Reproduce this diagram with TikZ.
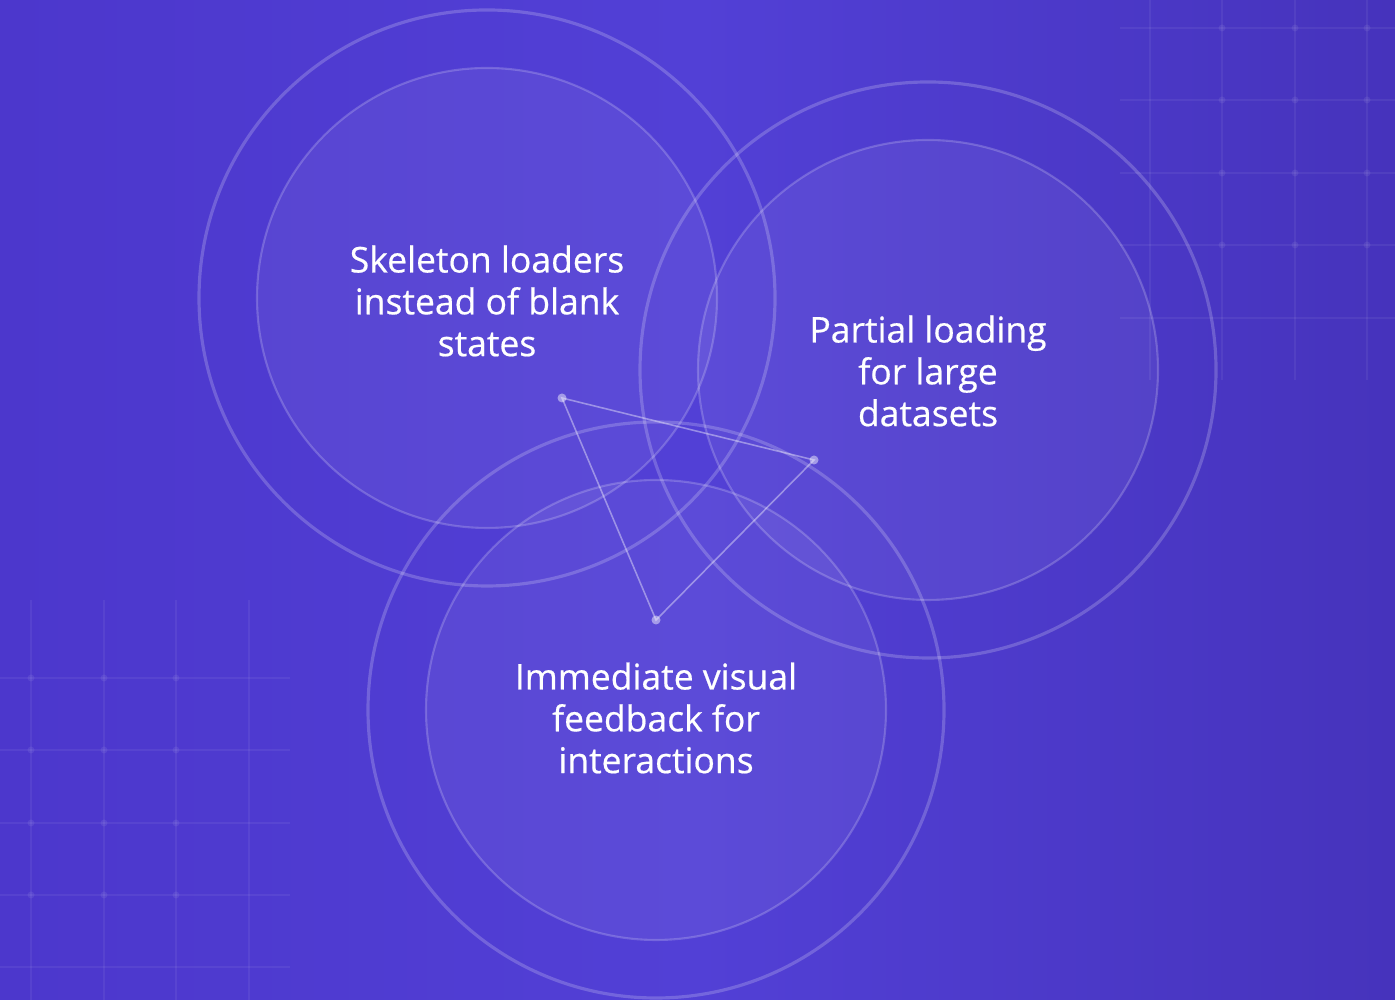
\documentclass[tikz,border=0pt]{standalone}
\usepackage{fontspec}
\setmainfont{Open Sans}
\newfontface\labelfont{Open Sans}[FakeBold=0.5]
\usepackage{tikz}
\usetikzlibrary{calc}
\usetikzlibrary{positioning}

\definecolor{bgleft}{HTML}{4C37CC}
\definecolor{bgright}{HTML}{4633BC}
\definecolor{bgmid}{HTML}{5240D6}

\begin{document}
\begin{tikzpicture}[
	ring/.style={draw=white,draw opacity=0.2,line width=0.9pt},
	disc/.style={fill=white,fill opacity=0.06,draw=white,draw opacity=0.2,line width=0.6pt},
	gridline/.style={white,opacity=0.06,line width=0.35pt},
	griddot/.style={white,opacity=0.07},
	edge/.style={white,opacity=0.4,line width=0.45pt},
	label/.style={text=white,align=center,font=\labelfont\fontsize{10.1}{11.9}\selectfont}]
	% background
	\useasboundingbox (0,0) rectangle (13.95,10);
	\shade[left color=bgleft,right color=bgright,middle color=bgmid] (0,0) rectangle (13.95,10);
	% faint grids in the corners
	\foreach \x in {11.50,12.22,12.95,13.67}
		\draw[gridline] (\x,10) -- (\x,6.2);
	\foreach \y in {9.72,9.0,8.27,7.55,6.82}
		\draw[gridline] (11.2,\y) -- (13.95,\y);
	\foreach \x in {12.22,12.95,13.67}
		\foreach \y in {9.72,9.0,8.27,7.55}
			\fill[griddot] (\x,\y) circle (0.035);
	\foreach \x in {0.31,1.04,1.76,2.49}
		\draw[gridline] (\x,4.0) -- (\x,0);
	\foreach \y in {3.22,2.5,1.77,1.05,0.33}
		\draw[gridline] (0,\y) -- (2.9,\y);
	\foreach \x in {0.31,1.04,1.76}
		\foreach \y in {3.22,2.5,1.77,1.05}
			\fill[griddot] (\x,\y) circle (0.035);
	% circles
	\draw[ring] (4.87,7.02) circle (2.88);
	\draw[ring] (9.28,6.30) circle (2.88);
	\draw[ring] (6.56,2.90) circle (2.88);
	\draw[disc] (4.87,7.02) circle (2.30);
	\draw[disc] (9.28,6.30) circle (2.30);
	\draw[disc] (6.56,2.90) circle (2.30);
	% triangle
	\coordinate (ta) at (5.62,6.02);
	\coordinate (tb) at (8.14,5.40);
	\coordinate (tc) at (6.56,3.80);
	\draw[edge] (ta) -- (tb) -- (tc) -- cycle;
	\foreach \p in {ta,tb,tc}
		\fill[white,opacity=0.45] (\p) circle (0.045);
	% texts
	\node[label] (skel) at (4.87,6.99) {Skeleton loaders\\instead of blank\\states};
	\node[label] (part) at (9.28,6.29) {Partial loading\\for large\\datasets};
	\node[label] (immed) at (6.56,2.82) {Immediate visual\\feedback for\\interactions};
\end{tikzpicture}
\end{document}
